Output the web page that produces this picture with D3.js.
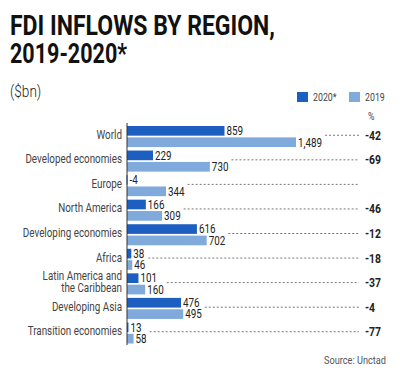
<!DOCTYPE html>
<html>
<head>
<meta charset="utf-8">
<script src="https://cdn.jsdelivr.net/npm/d3@7"></script>
<style>
  body { margin: 0; background: #fff; }
  svg { display: block; font-family: Roboto, "Liberation Sans", sans-serif; }
</style>
</head>
<body>
<div class="chart"></div>
<script>
var regions = ["World", "Developed economies", "Europe", "North America", "Developing economies",
               "Africa", "Latin America and\nthe Caribbean", "Developing Asia", "Transition economies"];
var series = ["2020*", "2019"];
var values2020 = [859, 229, -4, 166, 616, 38, 101, 476, 13];
var values2019 = [1489, 730, 344, 309, 702, 46, 160, 495, 58];
var changePct = [-42, -69, null, -46, -12, -18, -37, -4, -77];

var width = 400, height = 372;
var dark = "#1d5fc0", light = "#7faadb";
var narrow = 0.8;

var svg = d3.select(".chart").append("svg")
            .attr("width", width)
            .attr("height", height);

// condensed text: squeeze glyphs horizontally around the anchor point
function squeeze(sel, x, y, sx) {
	sel.attr("transform", "translate(" + x + "," + y + ") scale(" + sx + ",1)");
}

svg.append("text")
   .text("FDI INFLOWS BY REGION,")
   .attr("x", 10).attr("y", 35)
   .attr("font-size", "28.5px").attr("font-weight", 700)
   .attr("textLength", 265).attr("lengthAdjust", "spacingAndGlyphs")
   .attr("fill", "#111");

svg.append("text")
   .text("2019-2020*")
   .attr("x", 10).attr("y", 63)
   .attr("font-size", "28.5px").attr("font-weight", 700)
   .attr("textLength", 117).attr("lengthAdjust", "spacingAndGlyphs")
   .attr("fill", "#111");

svg.append("text")
   .text("($bn)")
   .attr("font-size", "16px").attr("font-weight", 300)
   .attr("fill", "#222")
   .call(squeeze, 10, 97, 0.85);

var data = regions.map(function(r, i) {
	return { region: r, v: [values2020[i], values2019[i]], pct: changePct[i] };
});

var x = d3.scaleLinear()
          .domain([0, d3.max(values2019)])
          .range([127, 296]);

var y = d3.scaleBand()
          .domain(regions)
          .range([124, 345]);

var yInner = d3.scaleBand()
               .domain(series)
               .range([2, y.bandwidth() - 1.5])
               .paddingInner(0.15);

var fmt = function(v) { return d3.format(",")(v).replace("\u2212", "-"); };
var colors = d3.scaleOrdinal().domain(series).range([dark, light]);

// legend
var legend = svg.append("g");
series.forEach(function(s, i) {
	var lx = 297 + i * 52;
	legend.append("rect")
	      .attr("x", lx).attr("y", 92)
	      .attr("width", 11).attr("height", 10)
	      .attr("fill", colors(s));
	legend.append("text")
	      .text(s)
	      .attr("font-size", "11px")
	      .attr("fill", "#444")
	      .call(squeeze, lx + 16, 101, narrow);
});

svg.append("text")
   .text("%")
   .attr("font-size", "11px").attr("fill", "#444")
   .call(squeeze, 368, 120, narrow);

var groups = svg.selectAll("g.region")
                .data(data)
                .enter()
                .append("g")
                .attr("class", "region")
                .attr("transform", function(d) { return "translate(0," + y(d.region) + ")"; });

groups.each(function(d) {
	var g = d3.select(this);
	var mid = y.bandwidth() / 2;

	// category label
	var lines = d.region.split("\n");
	lines.forEach(function(line, k) {
		g.append("text")
		 .text(line)
		 .attr("text-anchor", "end")
		 .attr("font-size", "12px")
		 .attr("fill", "#444")
		 .call(squeeze, 122, mid + 2.5 + (k - (lines.length - 1) / 2) * 12, 0.82);
	});

	var labelEnd = 0;
	series.forEach(function(s, k) {
		var val = d.v[k];
		var x0 = x(Math.min(0, val)), x1 = x(Math.max(0, val));
		g.append("rect")
		 .attr("x", x0)
		 .attr("y", yInner(s))
		 .attr("width", Math.max(1, x1 - x0))
		 .attr("height", yInner.bandwidth())
		 .attr("fill", colors(s));

		var lx = Math.max(x1, x0 + 1) + 2;
		var t = g.append("text")
		         .text(fmt(val))
		         .attr("font-size", "12px")
		         .attr("fill", "#222")
		         .call(squeeze, lx, yInner(s) + yInner.bandwidth() / 2 + 4.3, 0.82);
		labelEnd = Math.max(labelEnd, lx + t.node().getBBox().width * 0.82);
	});

	g.append("line")
	 .attr("x1", labelEnd + 3)
	 .attr("x2", 359)
	 .attr("y1", mid - 1)
	 .attr("y2", mid - 1)
	 .attr("stroke", "#555")
	 .attr("stroke-width", 0.8)
	 .attr("stroke-dasharray", "2,2");

	if (d.pct !== null) {
		g.append("text")
		 .text(d.pct)
		 .attr("font-size", "13px")
		 .attr("font-weight", 700)
		 .attr("fill", "#222")
		 .call(squeeze, 365, mid + 3.5, narrow);
	}
});

// baseline axis
svg.append("line")
   .attr("x1", x(0)).attr("x2", x(0))
   .attr("y1", 123).attr("y2", 345)
   .attr("stroke", "#333")
   .attr("stroke-width", 1);

svg.append("text")
   .text("Source: Unctad")
   .attr("text-anchor", "end")
   .attr("font-size", "11.5px")
   .attr("fill", "#555")
   .call(squeeze, 386, 364, narrow);
</script>
</body>
</html>
